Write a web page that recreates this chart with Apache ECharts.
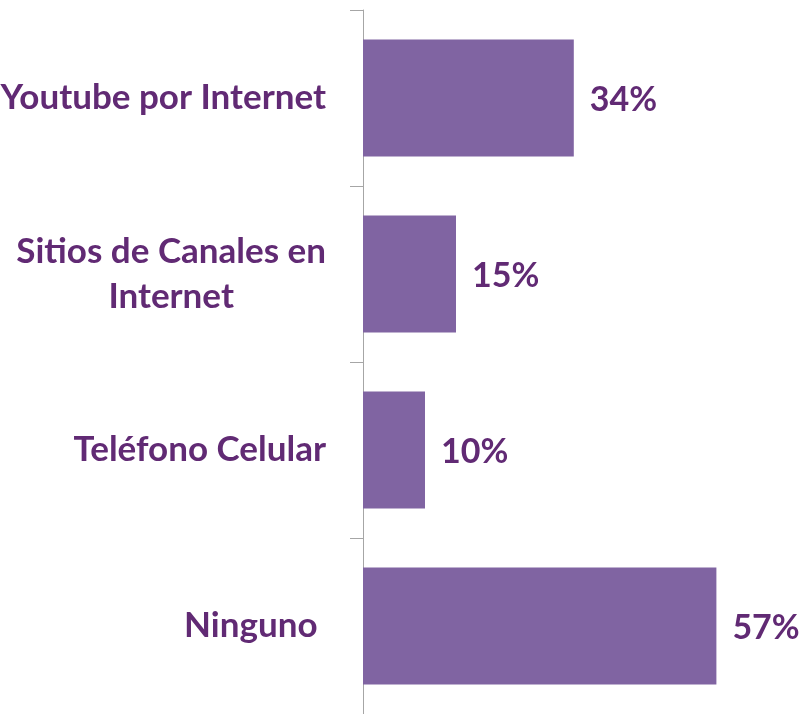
<!DOCTYPE html>
<html>
<head>
<meta charset="utf-8">
<script src="https://cdn.jsdelivr.net/npm/echarts@6/dist/echarts.min.js"></script>
<style>
  html, body { margin: 0; padding: 0; background: #fff; }
  #chart { width: 807px; height: 714px; }
</style>
</head>
<body>
<div id="chart"></div>
<script>
// categories top to bottom and their percentages
const categories = ['Youtube por Internet', 'Sitios de Canales en\nInternet', 'Teléfono Celular', 'Ninguno '];
const values = [34, 15, 10, 57];

const textColor = '#612A74';

let myChart = echarts.init(document.getElementById('chart'));

let option = {
  animation: false,
  grid: {
    left: 363,
    right: 72,
    top: 10,
    bottom: 0,
    outerBoundsMode: 'none'
  },
  xAxis: {
    type: 'value',
    min: 0,
    max: 60,
    show: false
  },
  yAxis: {
    type: 'category',
    inverse: true,
    data: categories,
    axisLine: {
      show: true,
      lineStyle: { color: '#A6A6A6', width: 1 }
    },
    axisTick: {
      show: true,
      length: 13,
      lineStyle: { color: '#A6A6A6', width: 1 }
    },
    axisLabel: {
      margin: 37,
      align: 'right',
      formatter: function (v) {
        return v.split('\n').map(s => '{c|' + s + '}').join('\n');
      },
      rich: {
        c: {
          align: 'center',
          color: textColor,
          fontFamily: 'Lato',
          fontWeight: 'bold',
          fontSize: 35,
          lineHeight: 45
        }
      }
    }
  },
  series: [
    {
      type: 'bar',
      data: values,
      barWidth: 117,
      itemStyle: { color: '#8064A2' },
      label: {
        show: true,
        position: 'right',
        distance: 16,
        offset: [0, 2],
        formatter: '{c}%',
        color: textColor,
        fontFamily: 'Lato',
        fontWeight: 'bold',
        fontSize: 34
      }
    }
  ]
};

myChart.setOption(option);
</script>
</body>
</html>
